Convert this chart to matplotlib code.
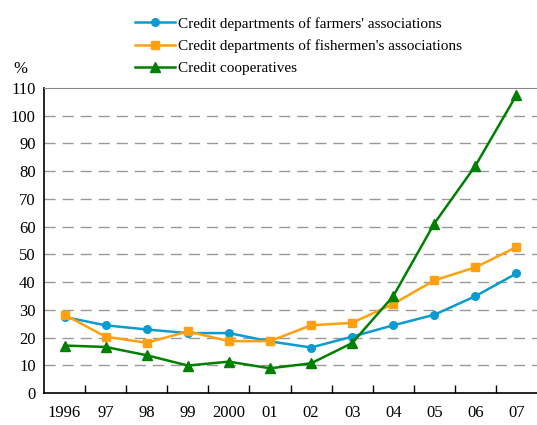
import matplotlib.pyplot as plt

plt.rcParams['font.family'] = ['Liberation Serif', 'DejaVu Serif']

years = ['1996', '97', '98', '99', '2000', '01', '02', '03', '04', '05', '06', '07']
farmers = [27.4, 24.4, 22.9, 21.6, 21.6, 18.6, 16.4, 20.3, 24.4, 28.2, 34.9, 43.1]
fishermen = [28.2, 20.3, 18.1, 22.2, 18.7, 18.7, 24.4, 25.3, 32.1, 40.6, 45.3, 52.6]
cooperatives = [17.1, 16.6, 13.6, 9.9, 11.3, 8.9, 10.7, 18.0, 34.9, 61.1, 81.9, 107.4]
yticks = list(range(0, 111, 10))


def RatioGraph():
    fig = plt.figure(figsize=(5.37, 4.25), dpi=100)
    ax = fig.add_axes([0.082, 0.0753, 0.918, 0.718])
    x = list(range(len(years)))

    ax.plot(x, farmers, color='#0A9BD0', marker='o', markersize=5.5, linewidth=1.8,
            label="Credit departments of farmers' associations", zorder=3)
    ax.plot(x, fishermen, color='#FFA010', marker='s', markersize=5.5, linewidth=1.8,
            label="Credit departments of fishermen's associations", zorder=3)
    ax.plot(x, cooperatives, color='#008000', marker='^', markersize=6.5, linewidth=1.8,
            label='Credit cooperatives', zorder=4)

    ax.set_xlim(-0.5, len(years) - 0.5)
    ax.set_ylim(0, 110)
    ax.set_yticks(yticks)
    ax.set_yticklabels([str(v) for v in yticks])
    ax.set_xticks(x)
    ax.set_xticklabels(years)
    ax.set_xticks([i + 0.5 for i in x[:-1]], minor=True)

    ax.tick_params(axis='x', which='major', length=0, labelsize=12, pad=9)
    ax.tick_params(axis='x', which='minor', direction='in', length=6, width=1, color='black')
    ax.tick_params(axis='y', length=0, labelsize=12, pad=6)

    for v in yticks[1:-1]:
        ax.axhline(v, color='#999999', linewidth=1, linestyle=(0, (8, 5)), zorder=1)

    ax.spines['right'].set_visible(False)
    ax.spines['top'].set_color('#888888')
    ax.spines['left'].set_linewidth(1.2)
    ax.spines['bottom'].set_linewidth(1.2)

    fig.text(0.038, 0.838, '%', fontsize=12, ha='center', va='center')

    fig.legend(loc='upper left', bbox_to_anchor=(0.251, 0.96), frameon=False, fontsize=11,
               handlelength=2.6, handletextpad=0.2, labelspacing=0.55,
               borderpad=0, borderaxespad=0)

    fig.savefig('out.png', dpi=100)


RatioGraph()
